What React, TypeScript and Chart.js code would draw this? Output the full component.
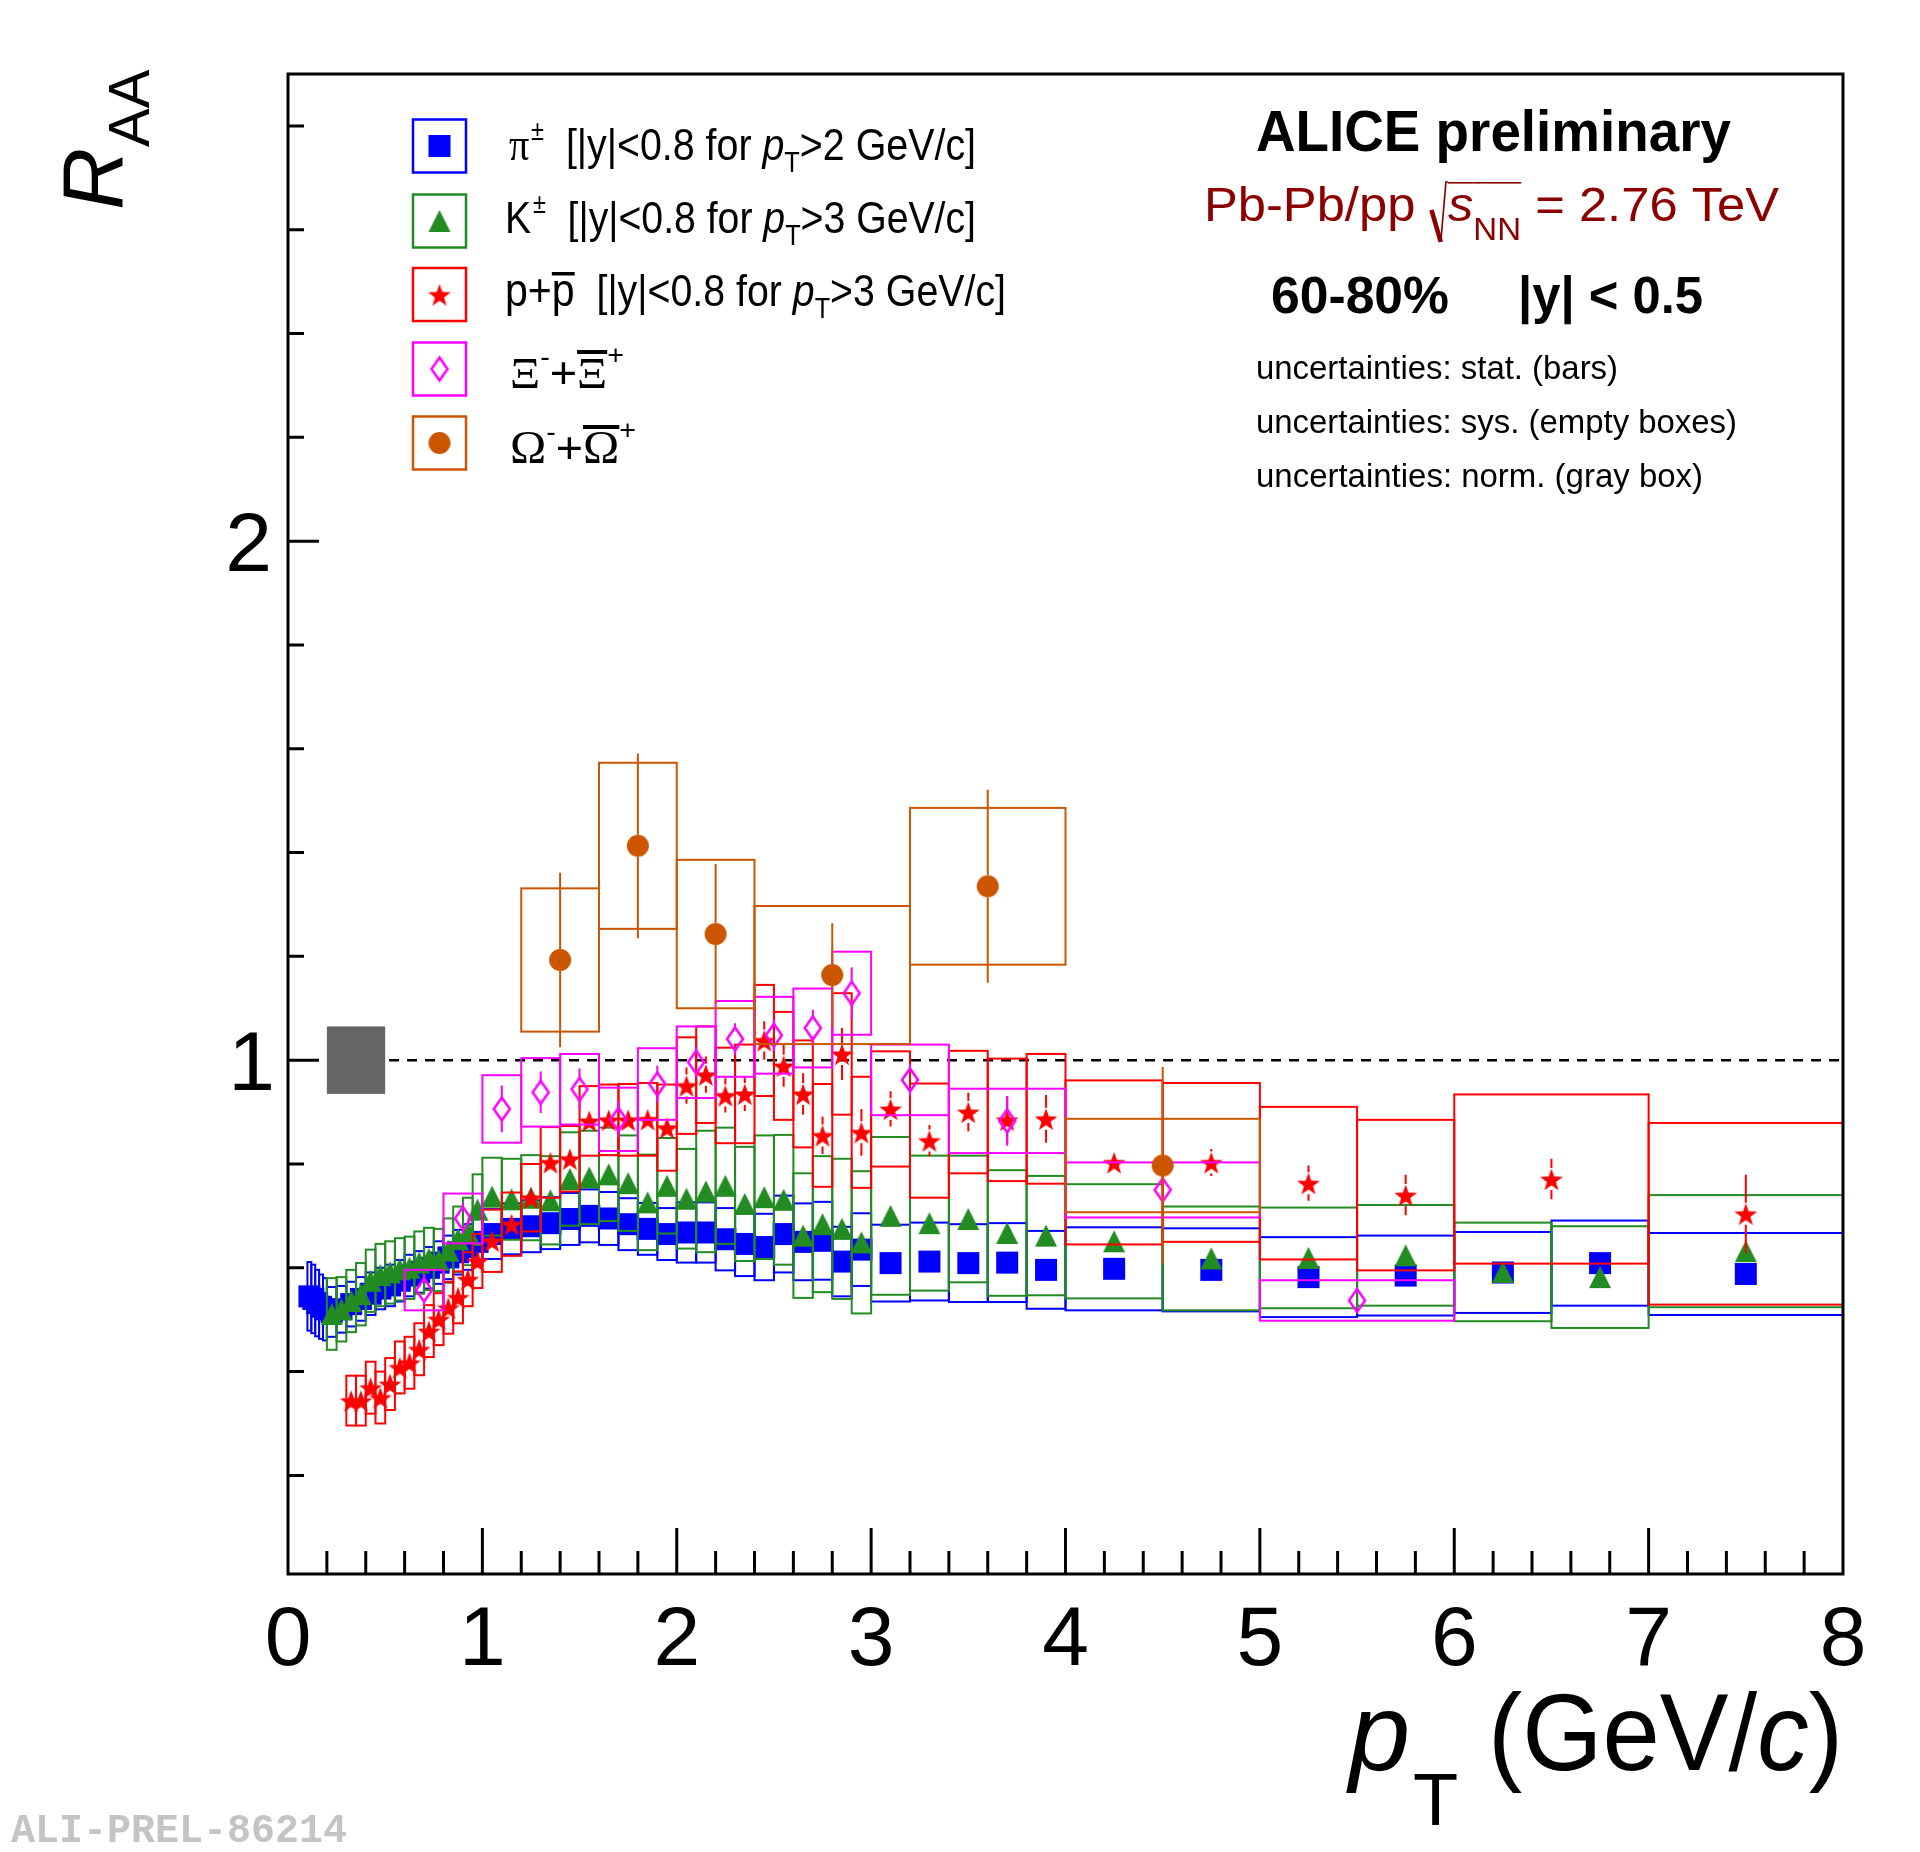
import { useEffect, useRef } from "react"
import { Chart, registerables, type ChartConfiguration, type Plugin } from "chart.js"

Chart.register(...registerables)

// ---- pi+- ----
const piPt = [0.11, 0.13, 0.15, 0.17, 0.19, 0.225, 0.275, 0.325, 0.375, 0.425, 0.475, 0.525, 0.575, 0.625, 0.675, 0.725, 0.775, 0.825, 0.875, 0.925, 0.975, 1.05, 1.15, 1.25, 1.35, 1.45, 1.55, 1.65, 1.75, 1.85, 1.95, 2.05, 2.15, 2.25, 2.35, 2.45, 2.55, 2.65, 2.75, 2.85, 2.95, 3.1, 3.3, 3.5, 3.7, 3.9, 4.25, 4.75, 5.25, 5.75, 6.25, 6.75, 7.5]
const piHalf = [0.01, 0.01, 0.01, 0.01, 0.01, 0.025, 0.025, 0.025, 0.025, 0.025, 0.025, 0.025, 0.025, 0.025, 0.025, 0.025, 0.025, 0.025, 0.025, 0.025, 0.025, 0.05, 0.05, 0.05, 0.05, 0.05, 0.05, 0.05, 0.05, 0.05, 0.05, 0.05, 0.05, 0.05, 0.05, 0.05, 0.05, 0.05, 0.05, 0.05, 0.05, 0.1, 0.1, 0.1, 0.1, 0.1, 0.25, 0.25, 0.25, 0.25, 0.25, 0.25, 0.5]
const piVal = [0.545, 0.54, 0.532, 0.525, 0.52, 0.515, 0.52, 0.53, 0.54, 0.55, 0.56, 0.566, 0.575, 0.585, 0.592, 0.6, 0.61, 0.62, 0.63, 0.64, 0.65, 0.665, 0.675, 0.68, 0.686, 0.694, 0.7, 0.695, 0.684, 0.675, 0.665, 0.668, 0.668, 0.655, 0.646, 0.64, 0.665, 0.65, 0.652, 0.612, 0.635, 0.609, 0.612, 0.609, 0.61, 0.596, 0.598, 0.596, 0.582, 0.585, 0.591, 0.609, 0.588]
const piStat = [0.012, 0.012, 0.012, 0.012, 0.012, 0.004, 0.004, 0.004, 0.004, 0.004, 0.004, 0.004, 0.004, 0.004, 0.004, 0.004, 0.004, 0.004, 0.004, 0.004, 0.004, 0.005, 0.005, 0.005, 0.005, 0.005, 0.005, 0.005, 0.005, 0.005, 0.005, 0.007, 0.007, 0.007, 0.007, 0.007, 0.007, 0.007, 0.007, 0.007, 0.007, 0.009, 0.009, 0.009, 0.009, 0.009, 0.01, 0.01, 0.01, 0.01, 0.01, 0.01, 0.01]
const piSys = [0.066, 0.066, 0.064, 0.062, 0.06, 0.048, 0.045, 0.043, 0.042, 0.041, 0.04, 0.04, 0.04, 0.04, 0.04, 0.04, 0.041, 0.042, 0.043, 0.044, 0.045, 0.048, 0.049, 0.05, 0.05, 0.05, 0.051, 0.051, 0.05, 0.05, 0.05, 0.058, 0.058, 0.06, 0.062, 0.064, 0.074, 0.074, 0.075, 0.067, 0.07, 0.074, 0.075, 0.075, 0.076, 0.075, 0.08, 0.08, 0.077, 0.077, 0.078, 0.082, 0.079]

// ---- K+- ----
const kPt = [0.225, 0.275, 0.325, 0.375, 0.425, 0.475, 0.525, 0.575, 0.625, 0.675, 0.725, 0.775, 0.825, 0.875, 0.925, 0.975, 1.05, 1.15, 1.25, 1.35, 1.45, 1.55, 1.65, 1.75, 1.85, 1.95, 2.05, 2.15, 2.25, 2.35, 2.45, 2.55, 2.65, 2.75, 2.85, 2.95, 3.1, 3.3, 3.5, 3.7, 3.9, 4.25, 4.75, 5.25, 5.75, 6.25, 6.75, 7.5]
const kHalf = [0.025, 0.025, 0.025, 0.025, 0.025, 0.025, 0.025, 0.025, 0.025, 0.025, 0.025, 0.025, 0.025, 0.025, 0.025, 0.025, 0.05, 0.05, 0.05, 0.05, 0.05, 0.05, 0.05, 0.05, 0.05, 0.05, 0.05, 0.05, 0.05, 0.05, 0.05, 0.05, 0.05, 0.05, 0.05, 0.05, 0.1, 0.1, 0.1, 0.1, 0.1, 0.25, 0.25, 0.25, 0.25, 0.25, 0.25, 0.5]
const kVal = [0.511, 0.52, 0.536, 0.549, 0.575, 0.586, 0.591, 0.597, 0.6, 0.61, 0.617, 0.615, 0.633, 0.655, 0.67, 0.712, 0.737, 0.732, 0.735, 0.73, 0.771, 0.774, 0.78, 0.763, 0.726, 0.758, 0.733, 0.747, 0.758, 0.723, 0.736, 0.731, 0.662, 0.684, 0.675, 0.649, 0.7, 0.686, 0.694, 0.667, 0.662, 0.651, 0.618, 0.619, 0.624, 0.592, 0.582, 0.632]
const kStat = [0.004, 0.004, 0.004, 0.004, 0.004, 0.004, 0.004, 0.004, 0.004, 0.004, 0.004, 0.004, 0.004, 0.004, 0.004, 0.004, 0.006, 0.006, 0.006, 0.006, 0.006, 0.006, 0.006, 0.006, 0.006, 0.006, 0.02, 0.02, 0.02, 0.02, 0.02, 0.02, 0.02, 0.02, 0.02, 0.02, 0.02, 0.02, 0.02, 0.02, 0.02, 0.018, 0.018, 0.018, 0.018, 0.018, 0.018, 0.018]
const kSys = [0.069, 0.062, 0.06, 0.06, 0.06, 0.06, 0.06, 0.06, 0.06, 0.06, 0.06, 0.06, 0.062, 0.063, 0.065, 0.068, 0.075, 0.078, 0.082, 0.085, 0.09, 0.09, 0.09, 0.092, 0.092, 0.092, 0.096, 0.117, 0.112, 0.11, 0.119, 0.125, 0.12, 0.131, 0.135, 0.137, 0.152, 0.13, 0.122, 0.121, 0.115, 0.11, 0.1, 0.097, 0.097, 0.095, 0.098, 0.108]

// ---- p+pbar ----
const pPt = [0.325, 0.375, 0.425, 0.475, 0.525, 0.575, 0.625, 0.675, 0.725, 0.775, 0.825, 0.875, 0.925, 0.975, 1.05, 1.15, 1.25, 1.35, 1.45, 1.55, 1.65, 1.75, 1.85, 1.95, 2.05, 2.15, 2.25, 2.35, 2.45, 2.55, 2.65, 2.75, 2.85, 2.95, 3.1, 3.3, 3.5, 3.7, 3.9, 4.25, 4.75, 5.25, 5.75, 6.5, 7.5]
const pHalf = [0.025, 0.025, 0.025, 0.025, 0.025, 0.025, 0.025, 0.025, 0.025, 0.025, 0.025, 0.025, 0.025, 0.025, 0.05, 0.05, 0.05, 0.05, 0.05, 0.05, 0.05, 0.05, 0.05, 0.05, 0.05, 0.05, 0.05, 0.05, 0.05, 0.05, 0.05, 0.05, 0.05, 0.05, 0.1, 0.1, 0.1, 0.1, 0.1, 0.25, 0.25, 0.25, 0.25, 0.5, 0.5]
const pVal = [0.344, 0.344, 0.369, 0.35, 0.376, 0.408, 0.417, 0.443, 0.478, 0.501, 0.523, 0.543, 0.578, 0.613, 0.652, 0.684, 0.735, 0.803, 0.81, 0.883, 0.885, 0.885, 0.886, 0.87, 0.951, 0.972, 0.932, 0.935, 1.038, 0.989, 0.935, 0.855, 1.012, 0.861, 0.906, 0.845, 0.9, 0.885, 0.887, 0.803, 0.803, 0.763, 0.74, 0.771, 0.704]
const pStat = [0.008, 0.008, 0.008, 0.008, 0.008, 0.008, 0.008, 0.008, 0.008, 0.008, 0.008, 0.008, 0.008, 0.008, 0.012, 0.012, 0.012, 0.012, 0.012, 0.012, 0.012, 0.012, 0.012, 0.012, 0.035, 0.035, 0.033, 0.033, 0.037, 0.04, 0.04, 0.036, 0.05, 0.045, 0.034, 0.03, 0.037, 0.046, 0.046, 0.02, 0.026, 0.034, 0.039, 0.039, 0.075]
const pSys = [0.048, 0.048, 0.05, 0.05, 0.05, 0.05, 0.05, 0.05, 0.05, 0.05, 0.05, 0.05, 0.052, 0.052, 0.06, 0.061, 0.065, 0.068, 0.063, 0.067, 0.068, 0.069, 0.07, 0.083, 0.093, 0.093, 0.092, 0.095, 0.107, 0.104, 0.103, 0.099, 0.117, 0.107, 0.111, 0.11, 0.118, 0.118, 0.125, 0.158, 0.153, 0.147, 0.145, 0.163, 0.175]

// ---- Xi ----
const xiPt = [0.7, 0.9, 1.1, 1.3, 1.5, 1.7, 1.9, 2.1, 2.3, 2.5, 2.7, 2.9, 3.2, 3.7, 4.5, 5.5]
const xiHalf = [0.1, 0.1, 0.1, 0.1, 0.1, 0.1, 0.1, 0.1, 0.1, 0.1, 0.1, 0.1, 0.2, 0.3, 0.5, 0.5]
const xiVal = [0.557, 0.695, 0.906, 0.938, 0.944, 0.886, 0.954, 0.996, 1.041, 1.048, 1.062, 1.129, 0.962, 0.883, 0.75, 0.537]
const xiStat = [0.03, 0.03, 0.045, 0.04, 0.04, 0.035, 0.035, 0.03, 0.03, 0.03, 0.035, 0.05, 0.03, 0.048, 0.02, 0.02]
const xiSys = [0.039, 0.048, 0.065, 0.066, 0.068, 0.061, 0.069, 0.069, 0.073, 0.074, 0.076, 0.08, 0.068, 0.062, 0.053, 0.039]

// ---- Omega ----
const omPt = [1.4, 1.8, 2.2, 2.8, 3.6, 4.5]
const omHalf = [0.2, 0.2, 0.2, 0.4, 0.4, 0.5]
const omVal = [1.193, 1.413, 1.243, 1.164, 1.335, 0.797]
const omStat = [0.168, 0.178, 0.135, 0.1, 0.186, 0.19]
const omSys = [0.138, 0.16, 0.143, 0.133, 0.151, 0.09]

// normalisation uncertainty (gray box)
const normRange = [0.2, 0.5]
const normUnc = 0.065

const xTickLabels = [0, 1, 2, 3, 4, 5, 6, 7, 8]
const yTickLabels = [1, 2]

const SANS = '"Liberation Sans", Arial, sans-serif'
const SERIF = '"Liberation Serif", "Times New Roman", serif'
const MONO = '"Liberation Mono", "Courier New", monospace'

type MarkerKind = "square" | "triangle" | "star" | "diamond" | "circle"

type Species = {
  pt: number[]
  val: number[]
  stat: number[]
  sys: number[]
  half: number[]
  color: string
  marker: MarkerKind
}

const species: Species[] = [
  { pt: piPt, val: piVal, stat: piStat, sys: piSys, half: piHalf, color: "#0000ff", marker: "square" },
  { pt: kPt, val: kVal, stat: kStat, sys: kSys, half: kHalf, color: "#228b22", marker: "triangle" },
  { pt: pPt, val: pVal, stat: pStat, sys: pSys, half: pHalf, color: "#ff0000", marker: "star" },
  { pt: xiPt, val: xiVal, stat: xiStat, sys: xiSys, half: xiHalf, color: "#ff00ff", marker: "diamond" },
  { pt: omPt, val: omVal, stat: omStat, sys: omSys, half: omHalf, color: "#cc5500", marker: "circle" },
]

function makeMarker(kind: MarkerKind, color: string): HTMLCanvasElement {
  const c = document.createElement("canvas")
  c.width = 28
  c.height = 28
  const g = c.getContext("2d")!
  const m = 14
  g.fillStyle = color
  g.strokeStyle = color
  g.beginPath()
  if (kind === "square") {
    g.rect(m - 11, m - 11, 22, 22)
    g.fill()
  } else if (kind === "triangle") {
    g.moveTo(m, m - 11)
    g.lineTo(m + 11, m + 11)
    g.lineTo(m - 11, m + 11)
    g.closePath()
    g.fill()
  } else if (kind === "star") {
    for (let k = 0; k < 10; k++) {
      const a = -Math.PI / 2 + (k * Math.PI) / 5
      const r = k % 2 === 0 ? 12 : 4.8
      const px = m + r * Math.cos(a)
      const py = m + 1.5 + r * Math.sin(a)
      if (k === 0) g.moveTo(px, py)
      else g.lineTo(px, py)
    }
    g.closePath()
    g.fill()
  } else if (kind === "diamond") {
    g.lineWidth = 2.5
    g.moveTo(m, m - 11.5)
    g.lineTo(m + 8, m)
    g.lineTo(m, m + 11.5)
    g.lineTo(m - 8, m)
    g.closePath()
    g.stroke()
  } else {
    g.arc(m, m, 11, 0, Math.PI * 2)
    g.fill()
  }
  return c
}

type Run = { t?: string; font?: string; dy?: number; dx?: number; over?: number; overW?: number; radical?: boolean }

// draws a line of mixed text pieces, squeezed horizontally to the given width
function drawRuns(ctx: CanvasRenderingContext2D, runs: Run[], x: number, y: number, width?: number) {
  const widths = runs.map((r) => {
    let w = r.dx ?? 0
    if (r.radical) w += 18
    else if (r.t) {
      ctx.font = r.font!
      w += ctx.measureText(r.t).width
    }
    return w
  })
  const total = widths.reduce((a, b) => a + b, 0)
  const sx = width ? width / total : 1
  ctx.save()
  ctx.translate(x, y)
  ctx.scale(sx, 1)
  ctx.strokeStyle = ctx.fillStyle
  let cx = 0
  runs.forEach((r, i) => {
    const start = cx + (r.dx ?? 0)
    if (r.radical) {
      ctx.lineWidth = 4.5
      ctx.beginPath()
      ctx.moveTo(start + 2, -11)
      ctx.lineTo(start + 11, 21)
      ctx.stroke()
      ctx.lineWidth = 1.6
      ctx.beginPath()
      ctx.moveTo(start + 11, 21)
      ctx.lineTo(start + 16, -39)
      ctx.lineTo(start + 18, -39)
      ctx.stroke()
    } else if (r.t) {
      ctx.font = r.font!
      ctx.fillText(r.t, start, r.dy ?? 0)
      if (r.over !== undefined) ctx.fillRect(start, r.over, widths[i] - (r.dx ?? 0), r.overW ?? 1.6)
    }
    cx += widths[i]
  })
  ctx.restore()
}

const decorPlugin: Plugin<"scatter"> = {
  id: "rootDecor",
  beforeDatasetsDraw(chart) {
    const { ctx, chartArea: a, scales } = chart
    const x = scales.x
    const y = scales.y
    ctx.save()
    ctx.fillStyle = "#666666"
    const gx0 = x.getPixelForValue(normRange[0])
    const gx1 = x.getPixelForValue(normRange[1])
    const gy0 = y.getPixelForValue(1 + normUnc)
    const gy1 = y.getPixelForValue(1 - normUnc)
    ctx.fillRect(gx0, gy0, gx1 - gx0, gy1 - gy0)
    ctx.strokeStyle = "#000"
    ctx.lineWidth = 2.5
    ctx.setLineDash([10, 8])
    ctx.beginPath()
    ctx.moveTo(x.getPixelForValue(0.52), y.getPixelForValue(1))
    ctx.lineTo(a.right, y.getPixelForValue(1))
    ctx.stroke()
    ctx.restore()
  },
  beforeDatasetDraw(chart, args) {
    const sp = species[args.index]
    if (!sp) return
    const { ctx, chartArea: a, scales } = chart
    const x = scales.x
    const y = scales.y
    ctx.save()
    ctx.beginPath()
    ctx.rect(a.left, a.top, a.right - a.left, a.bottom - a.top)
    ctx.clip()
    ctx.strokeStyle = sp.color
    ctx.lineWidth = 2
    sp.pt.forEach((p, i) => {
      const x0 = x.getPixelForValue(p - sp.half[i])
      const x1 = x.getPixelForValue(p + sp.half[i])
      const t = y.getPixelForValue(sp.val[i] + sp.sys[i])
      const b = y.getPixelForValue(sp.val[i] - sp.sys[i])
      ctx.strokeRect(x0, t, x1 - x0, b - t)
    })
    const gap = 11
    ctx.beginPath()
    sp.pt.forEach((p, i) => {
      const px = x.getPixelForValue(p)
      const py = y.getPixelForValue(sp.val[i])
      const t = y.getPixelForValue(sp.val[i] + sp.stat[i])
      const b = y.getPixelForValue(sp.val[i] - sp.stat[i])
      if (py - t > gap) {
        ctx.moveTo(px, t)
        ctx.lineTo(px, py - gap)
      }
      if (b - py > gap) {
        ctx.moveTo(px, py + gap)
        ctx.lineTo(px, b)
      }
    })
    ctx.stroke()
    ctx.restore()
  },
  afterDraw(chart) {
    const { ctx, chartArea: a, scales } = chart
    const x = scales.x
    const y = scales.y
    ctx.save()
    // frame and inward ticks
    ctx.strokeStyle = "#000"
    ctx.lineWidth = 3
    ctx.strokeRect(a.left, a.top, a.right - a.left, a.bottom - a.top)
    ctx.beginPath()
    for (let k = 1; k < 40; k++) {
      const v = k * 0.2
      const px = x.getPixelForValue(v)
      const len = k % 5 === 0 ? 46 : 23
      ctx.moveTo(px, a.bottom)
      ctx.lineTo(px, a.bottom - len)
    }
    for (let k = 1; k <= 14; k++) {
      const v = k * 0.2
      const py = y.getPixelForValue(v)
      const len = k % 5 === 0 ? 31 : 16
      ctx.moveTo(a.left, py)
      ctx.lineTo(a.left + len, py)
    }
    ctx.stroke()

    // tick labels
    ctx.fillStyle = "#000"
    ctx.font = `84px ${SANS}`
    ctx.textAlign = "center"
    xTickLabels.forEach((v) => ctx.fillText(String(v), x.getPixelForValue(v), 1665))
    ctx.textAlign = "right"
    yTickLabels.forEach((v) => ctx.fillText(String(v), v === 1 ? 275 : 272, y.getPixelForValue(v) + 30))
    ctx.textAlign = "left"

    // axis titles
    ctx.font = `italic 110px ${SANS}`
    ctx.fillText("p", 1349, 1770)
    ctx.font = `74px ${SANS}`
    ctx.fillText("T", 1413, 1825)
    drawRuns(ctx, [
      { t: "(GeV/", font: `110px ${SANS}` },
      { t: "c", font: `italic 110px ${SANS}` },
      { t: ")", font: `110px ${SANS}` },
    ], 1488, 1770, 355)
    ctx.save()
    ctx.translate(121.7, 210)
    ctx.rotate(-Math.PI / 2)
    ctx.font = `italic 86px ${SANS}`
    ctx.fillText("R", 0, 0)
    ctx.font = `58px ${SANS}`
    ctx.fillText("AA", 63, 27)
    ctx.restore()

    // header texts
    drawRuns(ctx, [{ t: "ALICE preliminary", font: `bold 57px ${SANS}` }], 1256, 151, 475)
    ctx.fillStyle = "#8c0000"
    drawRuns(ctx, [
      { t: "Pb-Pb/pp ", font: `49px ${SANS}` },
      { radical: true },
      { t: "s", font: `italic 49px ${SANS}`, over: -39 },
      { t: "NN", font: `32px ${SANS}`, dy: 19, over: -39 },
      { t: " = 2.76 TeV", font: `49px ${SANS}` },
    ], 1204, 221, 575)
    ctx.fillStyle = "#000"
    drawRuns(ctx, [{ t: "60-80%", font: `bold 51px ${SANS}` }], 1271, 313, 178)
    drawRuns(ctx, [{ t: "|y| < 0.5", font: `bold 51px ${SANS}` }], 1518, 313, 185)
    drawRuns(ctx, [{ t: "uncertainties: stat. (bars)", font: `34px ${SANS}` }], 1256, 379, 362)
    drawRuns(ctx, [{ t: "uncertainties: sys. (empty boxes)", font: `34px ${SANS}` }], 1256, 433, 481)
    drawRuns(ctx, [{ t: "uncertainties: norm. (gray box)", font: `34px ${SANS}` }], 1256, 487, 447)

    // legend
    const rowY = [146, 221, 294.5, 369, 443]
    species.forEach((sp, i) => {
      ctx.strokeStyle = sp.color
      ctx.lineWidth = 2.5
      ctx.strokeRect(413, rowY[i] - 26.5, 53, 53)
      ctx.drawImage(makeMarker(sp.marker, sp.color), 439.5 - 14, rowY[i] - 14)
    })
    const f45 = `45px ${SANS}`
    const sup = `27px ${SANS}`
    const sub = `29px ${SANS}`
    drawRuns(ctx, [
      { t: "π", font: `46px ${SERIF}` },
      { t: "±", font: sup, dy: -20, dx: 2 },
      { t: "  [|y|<0.8 for ", font: f45 },
      { t: "p", font: `italic 45px ${SANS}` },
      { t: "T", font: sub, dy: 12 },
      { t: ">2 GeV/c]", font: f45 },
    ], 509, 160, 467)
    drawRuns(ctx, [
      { t: "K", font: f45 },
      { t: "±", font: sup, dy: -20, dx: 2 },
      { t: "  [|y|<0.8 for ", font: f45 },
      { t: "p", font: `italic 45px ${SANS}` },
      { t: "T", font: sub, dy: 12 },
      { t: ">3 GeV/c]", font: f45 },
    ], 505, 233, 471)
    drawRuns(ctx, [
      { t: "p+", font: `47px ${SANS}` },
      { t: "p", font: `47px ${SANS}`, over: -34, overW: 3.5 },
      { t: "  [|y|<0.8 for ", font: f45 },
      { t: "p", font: `italic 45px ${SANS}` },
      { t: "T", font: sub, dy: 12 },
      { t: ">3 GeV/c]", font: f45 },
    ], 505, 306, 501)
    drawRuns(ctx, [
      { t: "Ξ", font: `44px ${SERIF}` },
      { t: "-", font: sup, dy: -22 },
      { t: "+", font: `44px ${SANS}` },
      { t: "Ξ", font: `44px ${SERIF}`, over: -38, overW: 4 },
      { t: "+", font: sup, dy: -24 },
    ], 510, 388, 114)
    drawRuns(ctx, [
      { t: "Ω", font: `46px ${SERIF}` },
      { t: "-", font: sup, dy: -22 },
      { t: "+", font: `44px ${SANS}` },
      { t: "Ω", font: `46px ${SERIF}`, over: -38, overW: 4 },
      { t: "+", font: sup, dy: -24 },
    ], 510, 463, 126)

    // figure id
    ctx.fillStyle = "#c4c4c4"
    drawRuns(ctx, [{ t: "ALI-PREL-86214", font: `bold 40px ${MONO}` }], 11, 1842, 336)
    ctx.restore()
  },
}

export default function App() {
  const canvasRef = useRef<HTMLCanvasElement>(null)

  useEffect(() => {
    const canvas = canvasRef.current
    if (!canvas) return

    const config: ChartConfiguration<"scatter"> = {
      type: "scatter",
      data: {
        datasets: species.map((sp, i) => ({
          data: sp.pt.map((p, j) => ({ x: p, y: sp.val[j] })),
          pointStyle: makeMarker(sp.marker, sp.color),
          pointRadius: 11,
          pointHoverRadius: 11,
          showLine: false,
          order: species.length - i,
        })),
      },
      options: {
        animation: false,
        responsive: false,
        devicePixelRatio: 1,
        events: [],
        layout: { padding: { left: 288, right: 77, top: 74, bottom: 278 } },
        scales: {
          x: { type: "linear", min: 0, max: 8, display: false },
          y: { type: "linear", min: 0.01, max: 2.9, display: false },
        },
        plugins: {
          legend: { display: false },
          tooltip: { enabled: false },
        },
      },
      plugins: [decorPlugin],
    }

    const chart = new Chart(canvas, config)
    return () => {
      chart.destroy()
    }
  }, [])

  return (
    <div style={{ position: "absolute", left: 0, top: 0, width: 1920, height: 1852, background: "#fff" }}>
      <canvas ref={canvasRef} width={1920} height={1852} style={{ width: 1920, height: 1852 }} />
    </div>
  )
}
